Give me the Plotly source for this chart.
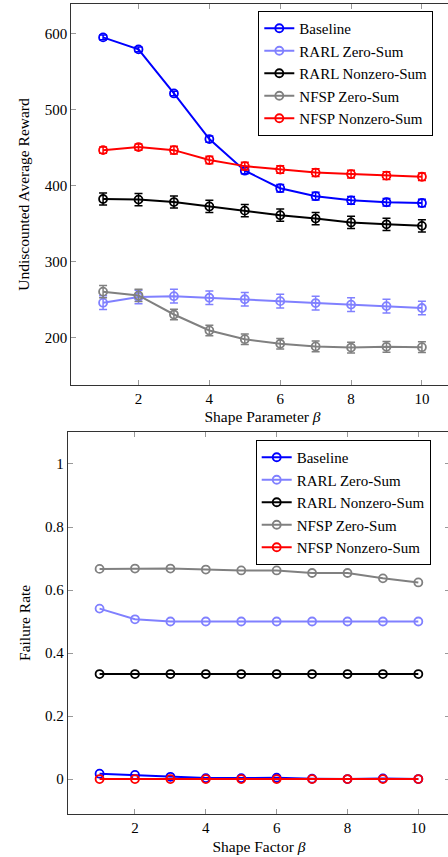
import plotly.graph_objects as go

# ---------------- data ----------------
beta = [1, 2, 3, 4, 5, 6, 7, 8, 9, 10]
series_names = ["Baseline", "RARL Zero-Sum", "RARL Nonzero-Sum", "NFSP Zero-Sum", "NFSP Nonzero-Sum"]

# Top: undiscounted average reward (mean, error)
reward_baseline = [594.7, 579.0, 521.0, 461.0, 419.5, 396.5, 386.0, 380.5, 378.0, 377.0]
reward_baseline_err = [3, 3, 3, 4, 4, 5, 5, 5, 5, 5]
reward_rarl_zero = [246.0, 253.5, 254.5, 252.5, 250.5, 248.0, 245.5, 243.5, 241.5, 239.0]
reward_rarl_zero_err = [9, 9, 9, 9, 9, 9, 9, 9, 9, 9]
reward_rarl_nonzero = [382.3, 381.5, 378.3, 372.5, 367.0, 361.0, 356.5, 351.5, 349.0, 347.0]
reward_rarl_nonzero_err = [8, 8, 8, 8, 8, 8, 8, 8, 8, 8]
reward_nfsp_zero = [260.5, 255.5, 230.5, 209.5, 198.0, 192.0, 188.5, 187.0, 188.0, 187.5]
reward_nfsp_zero_err = [8, 8, 7, 7, 7, 7, 7, 7, 7, 7]
reward_nfsp_nonzero = [446.5, 450.5, 446.5, 433.5, 425.5, 421.0, 417.0, 415.0, 413.0, 411.5]
reward_nfsp_nonzero_err = [4, 4, 5, 5, 5, 5, 5, 5, 5, 5]

# Bottom: failure rate
fail_baseline = [0.017, 0.013, 0.007, 0.003, 0.003, 0.004, 0.001, 0.0, 0.002, 0.0]
fail_rarl_zero = [0.541, 0.507, 0.5, 0.5, 0.5, 0.5, 0.5, 0.5, 0.5, 0.5]
fail_rarl_nonzero = [0.3333] * 10
fail_nfsp_zero = [0.667, 0.668, 0.668, 0.665, 0.662, 0.662, 0.654, 0.654, 0.637, 0.624]
fail_nfsp_nonzero = [0.0] * 10

x_ticks = [2, 4, 6, 8, 10]
reward_ticks = [200, 300, 400, 500, 600]
fail_ticks = [0, 0.2, 0.4, 0.6, 0.8, 1]
fail_ticklabels = ["0", "0.2", "0.4", "0.6", "0.8", "1"]

colors = ["#0000ff", "#8080ff", "#000000", "#808080", "#ff0000"]

# ---------------- figure ----------------
W, H = 460, 857
FONT = "Liberation Serif"

fig = go.Figure()

top_vals = [reward_baseline, reward_rarl_zero, reward_rarl_nonzero, reward_nfsp_zero, reward_nfsp_nonzero]
top_errs = [reward_baseline_err, reward_rarl_zero_err, reward_rarl_nonzero_err, reward_nfsp_zero_err, reward_nfsp_nonzero_err]
for name, vals, errs, c in zip(series_names, top_vals, top_errs, colors):
    fig.add_trace(go.Scatter(
        x=beta, y=vals, name=name, mode="lines+markers",
        line=dict(color=c, width=2),
        marker=dict(symbol="circle-open", size=8, color=c, line=dict(width=1.8, color=c)),
        error_y=dict(type="data", array=errs, visible=True, color=c, thickness=1.5, width=4),
        xaxis="x", yaxis="y", legend="legend",
    ))

bot_vals = [fail_baseline, fail_rarl_zero, fail_rarl_nonzero, fail_nfsp_zero, fail_nfsp_nonzero]
for name, vals, c in zip(series_names, bot_vals, colors):
    fig.add_trace(go.Scatter(
        x=beta, y=vals, name=name, mode="lines+markers",
        line=dict(color=c, width=2),
        marker=dict(symbol="circle-open", size=8, color=c, line=dict(width=1.8, color=c)),
        xaxis="x2", yaxis="y2", legend="legend2",
    ))

axis_common = dict(
    showline=True, linecolor="#333333", linewidth=1, mirror="ticks",
    ticks="inside", ticklen=5, tickcolor="#999999", tickwidth=1,
    showgrid=False, zeroline=False,
    tickfont=dict(family=FONT, size=15, color="#000"),
    title_font=dict(family=FONT, size=15.5, color="#000"),
)

fig.update_layout(
    width=W, height=H, autosize=False,
    margin=dict(l=0, r=0, t=0, b=0),
    paper_bgcolor="white", plot_bgcolor="white",
    font=dict(family=FONT, size=15, color="#000"),
    xaxis=dict(domain=[71.2 / W, 453.8 / W], range=[0.1, 10.9], tickvals=x_ticks,
               anchor="y", title=dict(text="Shape Parameter <i>β</i>", standoff=5), **axis_common),
    yaxis=dict(domain=[1 - 385 / H, 1 - 4 / H], range=[137.8, 638.6], tickvals=reward_ticks,
               anchor="x", title=dict(text="Undiscounted Average Reward", standoff=11), **axis_common),
    xaxis2=dict(domain=[67.7 / W, 450.2 / W], range=[0.1, 10.9], tickvals=x_ticks,
                anchor="y2", title=dict(text="Shape Factor <i>β</i>", standoff=6), **axis_common),
    yaxis2=dict(domain=[1 - 814 / H, 1 - 431.7 / H], range=[-0.111, 1.1025], tickvals=fail_ticks,
                ticktext=fail_ticklabels, anchor="x2",
                title=dict(text="Failure Rate", standoff=10), **axis_common),
    legend=dict(x=258.3 / W, y=1 - 11 / H, xanchor="left", yanchor="top",
                bordercolor="#000", borderwidth=1, bgcolor="white",
                font=dict(family=FONT, size=15, color="#000"), tracegroupgap=0),
    legend2=dict(x=255.7 / W, y=1 - 440 / H, xanchor="left", yanchor="top",
                 bordercolor="#000", borderwidth=1, bgcolor="white",
                 font=dict(family=FONT, size=15, color="#000"), tracegroupgap=0),
    showlegend=True,
)

post = ("document.body.style.margin='0';"
        "document.body.style.overflow='hidden';"
        "document.documentElement.style.overflow='hidden';")
fig.write_html("out.html", post_script=post, config={"displayModeBar": False})
